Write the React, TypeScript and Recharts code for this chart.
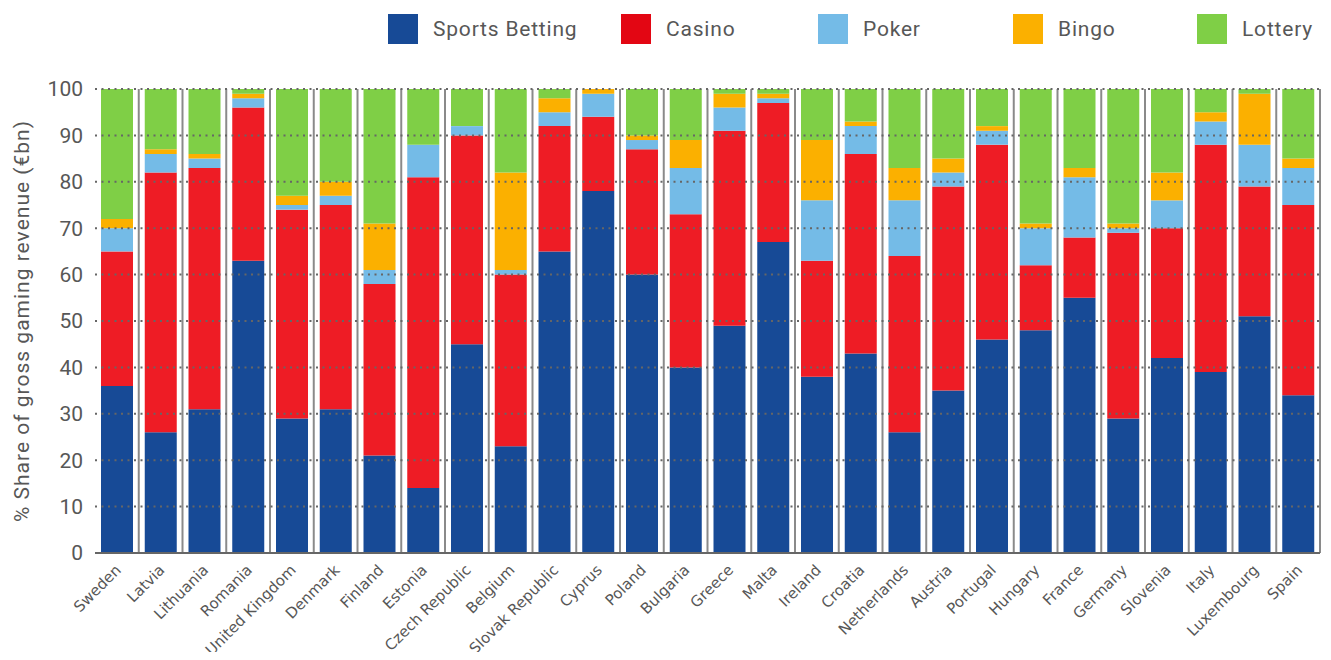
import React from 'react'
import {
  ComposedChart, Bar, XAxis, YAxis, CartesianGrid, Legend,
} from 'recharts'

const categories = [
  'Sweden', 'Latvia', 'Lithuania', 'Romania', 'United Kingdom', 'Denmark', 'Finland',
  'Estonia', 'Czech Republic', 'Belgium', 'Slovak Republic', 'Cyprus', 'Poland',
  'Bulgaria', 'Greece', 'Malta', 'Ireland', 'Croatia', 'Netherlands', 'Austria',
  'Portugal', 'Hungary', 'France', 'Germany', 'Slovenia', 'Italy', 'Luxembourg', 'Spain',
]

const sportsBetting = [36, 26, 31, 63, 29, 31, 21, 14, 45, 23, 65, 78, 60, 40, 49, 67, 38, 43, 26, 35, 46, 48, 55, 29, 42, 39, 51, 34]
const casino        = [29, 56, 52, 33, 45, 44, 37, 67, 45, 37, 27, 16, 27, 33, 42, 30, 25, 43, 38, 44, 42, 14, 13, 40, 28, 49, 28, 41]
const poker         = [5, 4, 2, 2, 1, 2, 3, 7, 2, 1, 3, 5, 2, 10, 5, 1, 13, 6, 12, 3, 3, 8, 13, 1, 6, 5, 9, 8]
const bingo         = [2, 1, 1, 1, 2, 3, 10, 0, 0, 21, 3, 1, 1, 6, 3, 1, 13, 1, 7, 3, 1, 1, 2, 1, 6, 2, 11, 2]
const lottery       = [28, 13, 14, 1, 23, 20, 29, 12, 8, 18, 2, 0, 10, 11, 1, 1, 11, 7, 17, 15, 8, 29, 17, 29, 18, 5, 1, 15]

const yTicks = [0, 10, 20, 30, 40, 50, 60, 70, 80, 90, 100]

const series = [
  { key: 'sports',  name: 'Sports Betting', color: '#174a96', swatch: '#174a96' },
  { key: 'casino',  name: 'Casino',         color: '#ee1c25', swatch: '#e30613' },
  { key: 'poker',   name: 'Poker',          color: '#74bbe7', swatch: '#74bbe7' },
  { key: 'bingo',   name: 'Bingo',          color: '#fbb000', swatch: '#fbb000' },
  { key: 'lottery', name: 'Lottery',        color: '#7fcf46', swatch: '#7fcf46' },
]

const data = categories.map((name, i) => ({
  name,
  sports: sportsBetting[i],
  casino: casino[i],
  poker: poker[i],
  bingo: bingo[i],
  lottery: lottery[i],
}))

const TEXT = '#575757'
// legend item widths (the source spaces its entries unevenly)
const legendWidths = [233, 197, 195, 184, 120]

function LegendBox() {
  return (
    <div style={{ height: 79, paddingTop: 4, paddingLeft: 388, boxSizing: 'border-box', display: 'flex', alignItems: 'flex-start' }}>
      {series.map((s, i) => (
        <div key={s.key} style={{ display: 'flex', alignItems: 'center', width: legendWidths[i], flex: 'none' }}>
          <div style={{ width: 30, height: 30, background: s.swatch, marginRight: 15 }} />
          <span style={{ fontFamily: 'Roboto, sans-serif', fontSize: 21, letterSpacing: 0.8, color: TEXT, lineHeight: '30px', whiteSpace: 'nowrap' }}>
            {s.name}
          </span>
        </div>
      ))}
    </div>
  )
}

function CountryTick({ x, y, payload }: any) {
  const tx = x + 5
  const ty = y + 10
  return (
    <text
      x={tx}
      y={ty}
      transform={`rotate(-45, ${tx}, ${ty})`}
      textAnchor="end"
      fill={TEXT}
      fontFamily="DejaVu Sans, sans-serif"
      fontSize={15}
    >
      {payload.value}
    </text>
  )
}

// grey separators on the boundaries between the country columns
const separatorLines = ({ offset }: any) =>
  categories.map((_, i) => offset.left + (offset.width * (i + 1)) / categories.length)

export default function App() {
  return (
    <div style={{ margin: -8 }}>
      <ComposedChart
        width={1331}
        height={660}
        data={data}
        margin={{ top: 10, right: 11, bottom: 0, left: 0 }}
      >
        <XAxis
          dataKey="name"
          interval={0}
          height={107}
          tick={<CountryTick />}
          tickLine={false}
          axisLine={{ stroke: '#666', strokeWidth: 2 }}
        />
        <YAxis
          domain={[0, 100]}
          ticks={yTicks}
          width={95}
          tickSize={0}
          tickMargin={12}
          axisLine={false}
          tickLine={false}
          tick={{ fill: TEXT, fontSize: 21, fontFamily: 'Roboto, sans-serif' }}
          label={{
            value: '% Share of gross gaming revenue (€bn)',
            angle: -90,
            position: 'insideLeft',
            dx: 17,
            style: { textAnchor: 'middle', fill: TEXT, fontSize: 21, letterSpacing: 1, fontFamily: 'Roboto, sans-serif' },
          }}
        />

        <CartesianGrid
          horizontal={false}
          stroke="#8a8a8a"
          strokeWidth={2}
          verticalCoordinatesGenerator={separatorLines}
        />

        <Legend verticalAlign="top" content={<LegendBox />} wrapperStyle={{ left: 0, width: 1331 }} />

        {series.map(s => (
          <Bar
            key={s.key}
            dataKey={s.key}
            name={s.name}
            stackId="share"
            fill={s.color}
            barSize={32}
            isAnimationActive={false}
          />
        ))}

        <CartesianGrid
          vertical={false}
          stroke="#666"
          strokeWidth={2}
          strokeDasharray="2 4.5"
          horizontalValues={yTicks.slice(1)}
          zIndex={1000}
        />
      </ComposedChart>
    </div>
  )
}
